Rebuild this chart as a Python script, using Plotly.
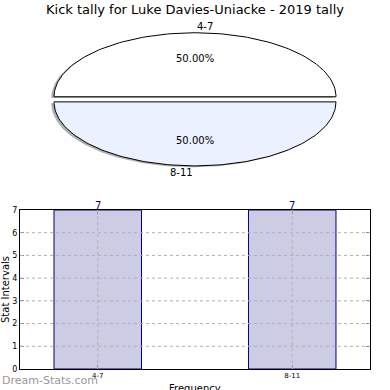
import numpy as np
import plotly.graph_objects as go

# ---- data ----
categories = ["4-7", "8-11"]
counts = [7, 7]
pie_colors = ["#FFFFFF", "#EBF1FF"]
title_text = "Kick tally for Luke Davies-Uniacke - 2019 tally"
x_title = "Frequency"
y_title = "Stat Intervals"
y_ticks = [0, 1, 2, 3, 4, 5, 6, 7]

fig = go.Figure()

# ---- elliptical pie built from values (matplotlib-style, start angle 0, ccw) ----
total = sum(counts)
fracs = [c / total for c in counts]
explode = 0.04
start = 0.0
wedges = []
for cat, f, col in zip(categories, fracs, pie_colors):
    a0, a1 = start * 2 * np.pi, (start + f) * 2 * np.pi
    mid = (a0 + a1) / 2
    ox, oy = explode * np.cos(mid), explode * np.sin(mid)
    t = np.linspace(a0, a1, 120)
    xs = np.concatenate([[ox], ox + np.cos(t), [ox]])
    ys = np.concatenate([[oy], oy + np.sin(t), [oy]])
    wedges.append((cat, f, col, mid, ox, oy, xs, ys))
    start += f

# shadows
for cat, f, col, mid, ox, oy, xs, ys in wedges:
    fig.add_trace(go.Scatter(x=xs - 0.02, y=ys - 0.02, mode="lines", fill="toself",
                             fillcolor="rgba(110,110,110,0.55)", line=dict(width=0),
                             xaxis="x2", yaxis="y2", hoverinfo="skip", showlegend=False))
for cat, f, col, mid, ox, oy, xs, ys in wedges:
    fig.add_trace(go.Scatter(x=xs, y=ys, mode="lines", fill="toself", fillcolor=col,
                             line=dict(color="black", width=1),
                             xaxis="x2", yaxis="y2", hoverinfo="skip", showlegend=False))
    fig.add_annotation(x=ox + 0.6 * np.cos(mid), y=oy + 0.6 * np.sin(mid), xref="x2", yref="y2",
                       text=f"{f*100:.2f}%", showarrow=False,
                       font=dict(family="DejaVu Sans", size=10, color="black"))
    lx = ox + 1.1 * np.cos(mid)
    fig.add_annotation(x=lx, y=oy + 1.1 * np.sin(mid), xref="x2", yref="y2",
                       text=cat, showarrow=False,
                       xanchor="left" if np.cos(mid) > 0 else "right",
                       font=dict(family="DejaVu Sans", size=10, color="black"))

# ---- bar chart ----
fig.add_trace(go.Bar(x=categories, y=counts, width=0.45,
                     marker=dict(color="#CCCCE5", line=dict(color="#000080", width=1)),
                     hoverinfo="skip", showlegend=False))
for c, v in zip(categories, counts):
    fig.add_annotation(x=c, y=v, xref="x", yref="y", text=str(v), showarrow=False,
                       yanchor="bottom", yshift=-3,
                       font=dict(family="DejaVu Sans", size=10, color="#000080"))

# dotted grid drawn above the bars (as in the reference)
grid_line = dict(color="#b0b0b0", width=1, dash="dot")
for v in y_ticks[1:-1]:
    fig.add_shape(type="line", xref="x domain", yref="y", x0=0, x1=1, y0=v, y1=v,
                  line=grid_line, layer="above")
for c in categories:
    fig.add_shape(type="line", xref="x", yref="y domain", x0=c, x1=c, y0=0, y1=1,
                  line=grid_line, layer="above")

fig.update_layout(
    width=390, height=390,
    margin=dict(l=0, r=0, t=0, b=0),
    paper_bgcolor="white", plot_bgcolor="white",
    title=dict(text=title_text, x=0.5, xanchor="center", y=0.975, yanchor="middle",
               font=dict(family="DejaVu Sans", size=13, color="black")),
    font=dict(family="DejaVu Sans", color="black"),
    xaxis2=dict(domain=[0, 1], range=[-195 / 141, 195 / 141], visible=False, anchor="y2",
                automargin=False),
    yaxis2=dict(domain=[0.5, 1], range=[-1.495, 1.552], visible=False, anchor="x2",
                automargin=False),
    xaxis=dict(domain=[20 / 390, 370 / 390], range=[-0.4, 1.4], anchor="y", automargin=False,
               showline=True, linecolor="black", linewidth=1, mirror="ticks",
               ticks="inside", ticklen=4, tickcolor="#888",
               showgrid=False, layer="above traces",
               tickfont=dict(size=7), zeroline=False),
    yaxis=dict(domain=[1 - 369 / 390, 1 - 210 / 390], range=[0, 7], anchor="x", automargin=False,
               tickvals=y_ticks, showline=True, linecolor="black", linewidth=1, mirror="ticks",
               ticks="inside", ticklen=4, tickcolor="#888",
               showgrid=False, layer="above traces",
               tickfont=dict(size=8), zeroline=False,
               title=dict(text=y_title, font=dict(size=10), standoff=2)),
)

fig.add_annotation(x=0.5, y=0.003, xref="x domain", yref="paper", xanchor="center",
                   yanchor="middle", text=x_title, showarrow=False,
                   font=dict(family="DejaVu Sans", size=10, color="black"))

fig.add_annotation(x=0, y=0.025, xref="paper", yref="paper", xanchor="left", yanchor="middle",
                   text="Dream-Stats.com", showarrow=False,
                   font=dict(family="DejaVu Sans", size=11, color="#999999"))

fig.write_html("out.html", config={"displayModeBar": False},
               post_script="document.body.style.margin='0';")
